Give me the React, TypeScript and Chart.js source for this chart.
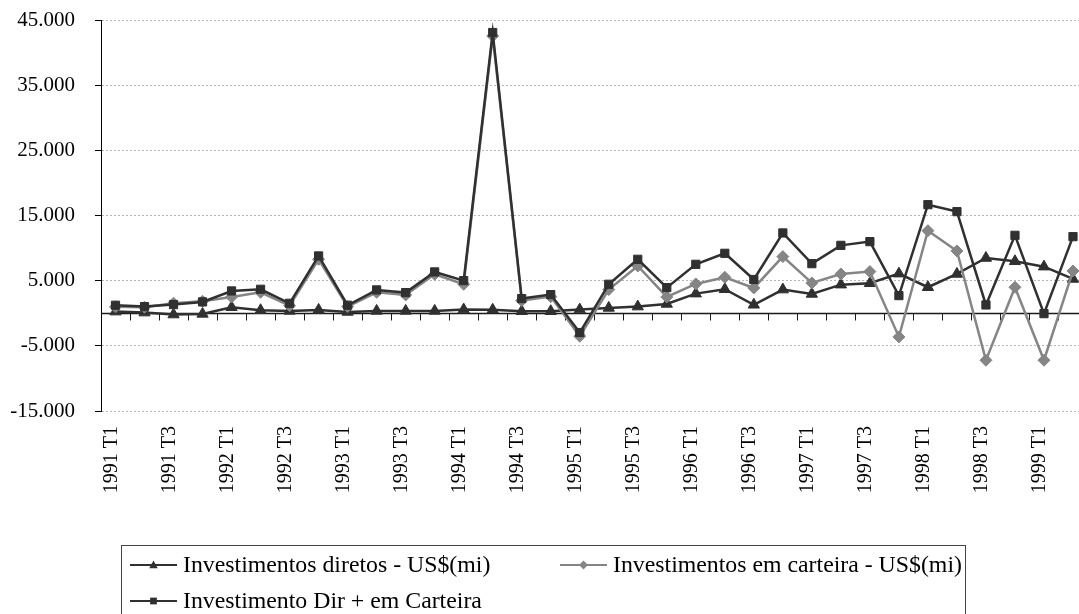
import React, { useEffect, useRef } from 'react';
import { Chart, registerables } from 'chart.js';

Chart.register(...registerables);

const categories = [
  '1991 T1', '1991 T2', '1991 T3', '1991 T4',
  '1992 T1', '1992 T2', '1992 T3', '1992 T4',
  '1993 T1', '1993 T2', '1993 T3', '1993 T4',
  '1994 T1', '1994 T2', '1994 T3', '1994 T4',
  '1995 T1', '1995 T2', '1995 T3', '1995 T4',
  '1996 T1', '1996 T2', '1996 T3', '1996 T4',
  '1997 T1', '1997 T2', '1997 T3', '1997 T4',
  '1998 T1', '1998 T2', '1998 T3', '1998 T4',
  '1999 T1', '1999 T2',
];

const directValues = [
  250, 100, -200, -100, 920, 460, 360, 510,
  200, 360, 360, 360, 560, 530, 310, 310,
  560, 820, 1020, 1430, 3010, 3680, 1300, 3630,
  2960, 4390, 4600, 6080, 3990, 6030, 8480, 7970,
  7150, 5260,
];

const portfolioValues = [
  980, 920, 1530, 1840, 2500, 3220, 1170, 8280,
  1030, 3220, 2810, 5980, 4450, 42550, 1940, 2550,
  -3520, 3630, 7260, 2500, 4500, 5520, 3880, 8690,
  4650, 6030, 6390, -3630, 12670, 9560, -7210, 3990,
  -7210, 6490,
];

const totalValues = [
  1230, 1020, 1330, 1740, 3420, 3680, 1530, 8790,
  1230, 3580, 3170, 6340, 5010, 43080, 2250, 2860,
  -2960, 4450, 8280, 3930, 7510, 9200, 5180, 12320,
  7610, 10420, 10990, 2710, 16660, 15590, 1270, 11960,
  -60, 11750,
];

const seriesLabels = [
  'Investimentos diretos - US$(mi)',
  'Investimentos em carteira - US$(mi)',
  'Investimento Dir + em Carteira',
];

const yMin = -15000;
const yMax = 45000;
const yStep = 10000;

const DARK = '#303030';
const GRAY = '#858585';
const FONT = '"Liberation Serif", "Times New Roman", serif';

function formatThousands(v: number): string {
  const s = Math.abs(Math.round(v)).toString().replace(/\B(?=(\d{3})+(?!\d))/g, '.');
  return (v < 0 ? '-' : '') + s;
}

function drawMarker(ctx: CanvasRenderingContext2D, style: string, x: number, y: number, r: number, color: string) {
  ctx.save();
  ctx.fillStyle = color;
  ctx.beginPath();
  if (style === 'triangle') {
    ctx.moveTo(x, y - r);
    ctx.lineTo(x + r * 0.95, y + r * 0.7);
    ctx.lineTo(x - r * 0.95, y + r * 0.7);
  } else if (style === 'rectRot') {
    ctx.moveTo(x, y - r);
    ctx.lineTo(x + r, y);
    ctx.lineTo(x, y + r);
    ctx.lineTo(x - r, y);
  } else {
    ctx.rect(x - r * 0.75, y - r * 0.75, r * 1.5, r * 1.5);
  }
  ctx.closePath();
  ctx.fill();
  ctx.restore();
}

const zeroAxisPlugin = {
  id: 'zeroAxis',
  beforeDatasetsDraw(chart: any) {
    const { ctx, chartArea, scales } = chart;
    const xs = scales.x;
    const y0 = Math.round(scales.y.getPixelForValue(0)) + 0.5;
    ctx.save();
    ctx.strokeStyle = '#1a1a1a';
    ctx.lineWidth = 1.5;
    ctx.beginPath();
    ctx.moveTo(chartArea.left, y0);
    ctx.lineTo(chartArea.right, y0);
    ctx.stroke();
    const n = chart.data.labels.length;
    const half = (xs.getPixelForValue(1) - xs.getPixelForValue(0)) / 2;
    ctx.lineWidth = 1;
    ctx.beginPath();
    for (let i = 1; i < n; i++) {
      const bx = Math.round(xs.getPixelForValue(i) - half) + 0.5;
      ctx.moveTo(bx, y0);
      ctx.lineTo(bx, y0 + 7);
    }
    ctx.stroke();
    ctx.restore();
  },
};

const boxLegendPlugin = {
  id: 'boxLegend',
  afterDraw(chart: any) {
    const { ctx } = chart;
    const ds = chart.data.datasets;
    ctx.save();
    ctx.strokeStyle = '#444';
    ctx.lineWidth = 1;
    ctx.strokeRect(121.5, 545.5, 844, 90);
    const items = [
      { i: 0, lx: 130, y: 565 },
      { i: 1, lx: 560, y: 565 },
      { i: 2, lx: 130, y: 601 },
    ];
    items.forEach(({ i, lx, y }) => {
      const d = ds[i];
      ctx.strokeStyle = d.borderColor;
      ctx.lineWidth = 2;
      ctx.beginPath();
      ctx.moveTo(lx, y);
      ctx.lineTo(lx + 47, y);
      ctx.stroke();
      drawMarker(ctx, d.pointStyle, lx + 23.5, y, 4.5, d.borderColor);
      ctx.fillStyle = '#000';
      ctx.font = `23.8px ${FONT}`;
      ctx.textBaseline = 'middle';
      ctx.textAlign = 'left';
      ctx.fillText(d.label, lx + 53, y + 1);
    });
    ctx.restore();
  },
};

export default function App() {
  const ref = useRef<HTMLCanvasElement>(null);

  useEffect(() => {
    if (!ref.current) return;
    const chart = new Chart(ref.current, {
      type: 'line',
      data: {
        labels: categories,
        datasets: [
          {
            label: seriesLabels[0],
            data: directValues,
            borderColor: DARK,
            backgroundColor: DARK,
            pointBackgroundColor: DARK,
            pointBorderColor: DARK,
            pointStyle: 'triangle',
            pointRadius: 6.5,
            pointBorderWidth: 1,
            borderWidth: 2.5,
            tension: 0,
            order: 2,
          },
          {
            label: seriesLabels[1],
            data: portfolioValues,
            borderColor: GRAY,
            backgroundColor: GRAY,
            pointBackgroundColor: GRAY,
            pointBorderColor: GRAY,
            pointStyle: 'rectRot',
            pointRadius: 6,
            pointBorderWidth: 1,
            borderWidth: 2.5,
            tension: 0,
            order: 1,
          },
          {
            label: seriesLabels[2],
            data: totalValues,
            borderColor: DARK,
            backgroundColor: DARK,
            pointBackgroundColor: DARK,
            pointBorderColor: DARK,
            pointStyle: 'rect',
            pointRadius: 5.8,
            pointBorderWidth: 1,
            borderWidth: 2.5,
            tension: 0,
            order: 0,
          },
        ],
      },
      options: {
        responsive: false,
        animation: false,
        events: [],
        layout: { padding: { top: 20, right: 7, left: 0, bottom: 0 } },
        plugins: {
          legend: { display: false },
          tooltip: { enabled: false },
          title: { display: false },
        },
        scales: {
          x: {
            type: 'category',
            offset: true,
            grid: { display: false, drawTicks: false },
            border: { display: false },
            ticks: {
              autoSkip: false,
              maxRotation: 90,
              minRotation: 90,
              padding: 15,
              labelOffset: -4,
              color: '#000',
              font: { family: FONT, size: 20 },
              callback: function (this: any, v: any, i: number) {
                return i % 2 === 0 ? this.getLabelForValue(v) : '';
              },
            },
            afterFit: (s: any) => {
              s.height = 203;
              s.paddingLeft = 0;
              s.paddingRight = 0;
            },
          },
          y: {
            min: yMin,
            max: yMax,
            ticks: {
              stepSize: yStep,
              padding: 20,
              color: '#000',
              font: { family: FONT, size: 21 },
              callback: (v: any) => formatThousands(Number(v)),
            },
            grid: {
              color: '#b5b5b5',
              lineWidth: 1,
              tickColor: '#000',
              tickLength: 6,
              tickBorderDash: [],
            },
            border: { display: true, color: '#000', width: 1, dash: [2, 2] },
            afterFit: (s: any) => {
              s.width = 101;
              s.paddingTop = 0;
              s.paddingBottom = 0;
            },
          },
        },
      },
      plugins: [zeroAxisPlugin, boxLegendPlugin],
    });
    return () => chart.destroy();
  }, []);

  return (
    <div style={{ position: 'absolute', left: 0, top: 0, width: 1079, height: 614, overflow: 'hidden', background: '#fff' }}>
      <canvas ref={ref} width={1095} height={614} style={{ display: 'block', width: 1095, height: 614 }} />
    </div>
  );
}
